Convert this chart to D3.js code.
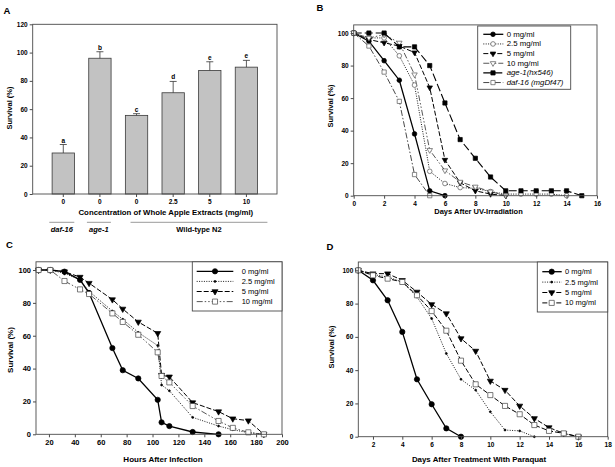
<!DOCTYPE html>
<html><head><meta charset="utf-8">
<script src="https://cdn.jsdelivr.net/npm/d3@7"></script>
<style>
body{margin:0;background:#fff}
svg{display:block}
text{font-family:"Liberation Sans",Arial,Helvetica,sans-serif}
</style>
</head><body>
<svg id="chart" width="615" height="467"></svg>
<script>
// ---------- Panel A data ----------
const barCategories = ["0", "0", "0", "2.5", "5", "10"];
const barValues = [29, 96, 55.6, 71.6, 87.4, 89.7];
const barErrors = [6, 4.6, 1.2, 8, 6.1, 4.8];
const barLetters = ["a", "b", "c", "d", "e", "e"];
const aYTicks = [0, 20, 40, 60, 80, 100, 120];
const strainGroups = ["daf-16", "age-1", "Wild-type N2"];
const strainFirst = [0, 1, 2];
const strainLast = [0, 1, 5];

// ---------- Panel B data ----------
const bLabels = ["0 mg/ml", "2.5 mg/ml", "5 mg/ml", "10 mg/ml", "age-1(hx546)", "daf-16 (mgDf47)"];
const b0 = [100, 95, 83, 71, 38, 3, 0];
const b25 = [100, 97, 97, 86, 68, 15, 7.5, 5, 4.5, 2.5, 1, 1, 1, 1, 0];
const b5 = [100, 96, 94, 92, 88, 66.5, 22, 8, 3, 1, 0];
const b10 = [100, 97, 99, 94, 74.5, 28, 15.5, 8.5, 5.5, 2.5, 0];
const bAge1 = [100, 100, 100, 91.5, 91.5, 80, 57, 34.5, 23, 11.5, 3, 3, 3, 3, 3, 0];
const bDaf16 = [100, 92, 76, 58, 13, 0];
const bXTicks = [0, 2, 4, 6, 8, 10, 12, 14, 16];

// ---------- Panel C data ----------
const cLabels = ["0 mg/ml", "2.5 mg/ml", "5 mg/ml", "10 mg/ml"];
const cHours = [12, 21, 32, 44, 51, 69, 77, 89, 104, 107, 113, 131, 151, 162, 174, 186];
const c0 = [100, 100, 99, 94, 86, 52.5, 39, 34, 21, 7.3, 5, 1.4, 0];
const c25 = [100, 100, 98, 94, 87, 75, 70, 62, 54, 30, 26.5, 10.3, 5, 2.8, 1, 0];
const c5 = [100, 100, 99, 95.7, 92, 82, 76.3, 68.4, 61.5, 36, 35, 19.3, 13.8, 9.5, 8.3, 0];
const c10 = [100, 100, 93.3, 88.2, 85.4, 73.6, 68.4, 60.6, 49.9, 35.5, 31.6, 17.2, 8.1, 3.9, 1.2, 0];
const cXTicks = [20, 40, 60, 80, 100, 120, 140, 160, 180, 200];

// ---------- Panel D data ----------
const dLabels = ["0 mg/ml", "2.5 mg/ml", "5 mg/ml", "10 mg/ml"];
const d0 = [100, 94, 82, 63, 34.5, 19.5, 5, 0];
const d25 = [100, 97.5, 96, 93, 84, 71, 50, 34.5, 28, 15, 4, 3.5, 0];
const d5 = [100, 98, 98, 94, 87, 79.5, 74, 59, 51.5, 33.5, 28, 18.5, 11, 5.5, 2, 0];
const d10 = [100, 97, 95, 93, 85, 75.5, 63.7, 45.7, 31.5, 25, 18.5, 13.5, 7, 3.5, 2, 0];
const dXTicks = [2, 4, 6, 8, 10, 12, 14, 16, 18];

const survTicks = [0, 20, 40, 60, 80, 100];

// ---------- styles ----------
const FONT = '"Liberation Sans",Arial,Helvetica,sans-serif';
const frameColor = "#4a4a4a";
const svg = d3.select("#chart");
svg.append("rect").attr("width", 615).attr("height", 467).attr("fill", "#fff");

const styles = {
  solid:   {dash: null, w: 1.3, color: "#000"},
  dotted:  {dash: "1,1.4", w: 0.9, color: "#000"},
  dashed:  {dash: "5,2", w: 1.0, color: "#000"},
  longdash:{dash: "8,3", w: 1.1, color: "#000"},
  dashdot: {dash: "6,2,1.5,2", w: 0.9, color: "#333"},
  dashdotdot: {dash: "6,2,1.5,2,1.5,2", w: 0.9, color: "#444"}
};
const markers = {
  fcircle: {type: d3.symbolCircle, size: 17, fill: "#000", stroke: "#000", rot: 0},
  ocircle: {type: d3.symbolCircle, size: 17, fill: "#fff", stroke: "#555", rot: 0},
  ftri:    {type: d3.symbolTriangle, size: 13, fill: "#000", stroke: "#000", rot: 180},
  otri:    {type: d3.symbolTriangle, size: 13, fill: "#fff", stroke: "#555", rot: 180},
  fsquare: {type: d3.symbolSquare, size: 18, fill: "#000", stroke: "#000", rot: 0},
  osquare: {type: d3.symbolSquare, size: 18, fill: "#fff", stroke: "#555", rot: 0},
  dot:     {type: d3.symbolCircle, size: 3, fill: "#000", stroke: "#000", rot: 0},
  ftriL:   {type: d3.symbolTriangle, size: 16, fill: "#000", stroke: "#000", rot: 180},
  osquareL:{type: d3.symbolSquare, size: 26, fill: "#fff", stroke: "#444", rot: 0},
  fcircleL:{type: d3.symbolCircle, size: 22, fill: "#000", stroke: "#000", rot: 0}
};

function styleAxis(ax, fs) {
  ax.select(".domain").remove();
  ax.selectAll(".tick line").attr("stroke", frameColor);
  ax.selectAll(".tick text").attr("fill", "#000").attr("font-family", FONT)
    .attr("font-size", fs).attr("font-weight", "bold");
}

function drawMarker(g, mk, cx, cy) {
  const m = markers[mk];
  g.append("path")
    .attr("d", d3.symbol().type(m.type).size(m.size)())
    .attr("transform", `translate(${cx},${cy}) rotate(${m.rot})`)
    .attr("fill", m.fill).attr("stroke", m.stroke).attr("stroke-width", 0.7);
}

function panelLetter(txt, x, y) {
  svg.append("text").attr("x", x).attr("y", y).text(txt)
    .attr("font-size", 9.5).attr("font-weight", "bold").attr("font-family", FONT);
}

function yTitle(txt, x, y, fs) {
  svg.append("text").attr("transform", `translate(${x},${y}) rotate(-90)`)
    .attr("text-anchor", "middle").attr("dominant-baseline", "central")
    .attr("font-size", fs).attr("font-weight", "bold").attr("font-family", FONT).text(txt);
}

// ---------- Panel A ----------
(function () {
  const L = 32.7, R = 277, T = 24.3, B = 194;
  const idx = barCategories.map((d, i) => i);
  const x = d3.scaleBand().domain(idx).range([L, R]).paddingInner(0.39).paddingOuter(0.53);
  const y = d3.scaleLinear().domain([0, 120]).range([B, T]);
  const g = svg.append("g");

  g.selectAll("rect.bar").data(idx).join("rect").attr("class", "bar")
    .attr("x", i => x(i)).attr("width", x.bandwidth())
    .attr("y", i => y(barValues[i])).attr("height", i => B - y(barValues[i]))
    .attr("fill", "#c2c2c2").attr("stroke", "#3a3a3a").attr("stroke-width", 0.8);

  idx.forEach(i => {
    const cx = x(i) + x.bandwidth() / 2;
    const top = y(barValues[i] + barErrors[i]);
    g.append("line").attr("x1", cx).attr("x2", cx).attr("y1", y(barValues[i])).attr("y2", top)
      .attr("stroke", "#333").attr("stroke-width", 0.8);
    g.append("line").attr("x1", cx - 3.5).attr("x2", cx + 3.5).attr("y1", top).attr("y2", top)
      .attr("stroke", "#333").attr("stroke-width", 0.8);
    g.append("text").attr("x", cx).attr("y", top - 2).attr("text-anchor", "middle")
      .attr("font-size", 6.5).attr("font-weight", "bold").attr("font-family", FONT).text(barLetters[i]);
  });

  g.append("rect").attr("x", L).attr("y", T).attr("width", R - L).attr("height", B - T)
    .attr("fill", "none").attr("stroke", frameColor).attr("stroke-width", 0.9);

  const ya = g.append("g").attr("transform", `translate(${L},0)`)
    .call(d3.axisLeft(y).tickValues(aYTicks).tickSize(3).tickPadding(2));
  styleAxis(ya, 6.5);
  const xa = g.append("g").attr("transform", `translate(0,${B})`)
    .call(d3.axisBottom(x).tickFormat(i => barCategories[i]).tickSize(3).tickPadding(2));
  styleAxis(xa, 6.5);

  g.append("text").attr("x", (L + R) / 2 + 11).attr("y", 215).attr("text-anchor", "middle")
    .attr("font-size", 7.8).attr("font-weight", "bold").attr("font-family", FONT)
    .text("Concentration of Whole Apple Extracts (mg/ml)");

  const padL = [14, 13, 6], padR = [11, 11, 21];
  strainGroups.forEach((name, k) => {
    const x1 = x(strainFirst[k]) + x.bandwidth() / 2 - padL[k];
    const x2 = x(strainLast[k]) + x.bandwidth() / 2 + padR[k];
    g.append("line").attr("x1", x1).attr("x2", x2).attr("y1", 222.3).attr("y2", 222.3)
      .attr("stroke", "#9a9a9a").attr("stroke-width", 1);
    g.append("text").attr("x", (x1 + x2) / 2).attr("y", 232).attr("text-anchor", "middle")
      .attr("font-size", 7.5).attr("font-weight", "bold").attr("font-family", FONT)
      .attr("font-style", k < 2 ? "italic" : "normal").text(name);
  });

  panelLetter("A", 3.5, 14);
  yTitle("Survival (%)", 9.5, 108, 7.5);
})();

// ---------- generic line panel ----------
function linePanel(cfg) {
  const g = svg.append("g");
  const x = d3.scaleLinear().domain(cfg.xDomain).range([cfg.L, cfg.R]);
  const y = d3.scaleLinear().domain([0, 105]).range([cfg.B, cfg.T]);

  cfg.series.forEach(s => {
    const pts = s.y.map((v, i) => [s.x[i], v]);
    const st = styles[s.line];
    g.append("path").datum(pts)
      .attr("d", d3.line().x(d => x(d[0])).y(d => y(d[1])))
      .attr("fill", "none").attr("stroke", st.color).attr("stroke-width", st.w)
      .attr("stroke-dasharray", st.dash);
  });
  cfg.series.forEach(s => {
    s.y.forEach((v, i) => drawMarker(g, s.marker, x(s.x[i]), y(v)));
  });

  g.append("rect").attr("x", cfg.L).attr("y", cfg.T).attr("width", cfg.R - cfg.L).attr("height", cfg.B - cfg.T)
    .attr("fill", "none").attr("stroke", frameColor).attr("stroke-width", 0.9);

  const ya = g.append("g").attr("transform", `translate(${cfg.L},0)`)
    .call(d3.axisLeft(y).tickValues(survTicks).tickSize(3).tickPadding(2));
  styleAxis(ya, cfg.tickFs);
  const xa = g.append("g").attr("transform", `translate(0,${cfg.B})`)
    .call(d3.axisBottom(x).tickValues(cfg.xTicks).tickSize(3).tickPadding(2.5));
  styleAxis(xa, cfg.tickFs);

  g.append("text").attr("x", cfg.xTitleX).attr("y", cfg.xTitleY).attr("text-anchor", "middle")
    .attr("font-size", cfg.titleFs).attr("font-weight", "bold").attr("font-family", FONT).text(cfg.xTitle);

  // legend
  const lg = cfg.legend;
  g.append("rect").attr("x", lg.x).attr("y", lg.y).attr("width", lg.w).attr("height", lg.h)
    .attr("fill", "#fff").attr("stroke", frameColor).attr("stroke-width", 0.9);
  cfg.series.forEach((s, i) => {
    const ry = lg.row0 + i * lg.dy;
    const st = styles[s.line];
    g.append("line").attr("x1", lg.sx1).attr("x2", lg.sx2).attr("y1", ry).attr("y2", ry)
      .attr("stroke", st.color).attr("stroke-width", st.w).attr("stroke-dasharray", st.dash);
    drawMarker(g, s.marker, lg.mx, ry);
    g.append("text").attr("x", lg.tx).attr("y", ry).attr("dominant-baseline", "central")
      .attr("font-size", lg.fs).attr("font-family", FONT)
      .attr("font-style", s.italic ? "italic" : "normal").text(s.label);
  });
}

const bDays = d3.range(0, 16);
linePanel({
  L: 353.7, R: 597, T: 24.9, B: 195.7, xDomain: [0, 16], xTicks: bXTicks,
  tickFs: 6.5, titleFs: 7.5, xTitle: "Days After UV-Irradiation", xTitleX: 478.5, xTitleY: 213.5,
  series: [
    {label: bLabels[0], x: bDays, y: b0, line: "solid", marker: "fcircle"},
    {label: bLabels[1], x: bDays, y: b25, line: "dotted", marker: "ocircle"},
    {label: bLabels[2], x: bDays, y: b5, line: "dashed", marker: "ftri"},
    {label: bLabels[3], x: bDays, y: b10, line: "dashdotdot", marker: "otri"},
    {label: bLabels[4], x: bDays, y: bAge1, line: "longdash", marker: "fsquare", italic: true},
    {label: bLabels[5], x: bDays, y: bDaf16, line: "dashdot", marker: "osquare", italic: true}
  ],
  legend: {x: 477.7, y: 26, w: 93, h: 63.3, row0: 34.3, dy: 9.65, sx1: 483.3, sx2: 503.3, mx: 493, tx: 506.7, fs: 7.8}
});

linePanel({
  L: 36, R: 282, T: 261.8, B: 434.3, xDomain: [10, 200], xTicks: cXTicks,
  tickFs: 7.5, titleFs: 8, xTitle: "Hours After Infection", xTitleX: 163, xTitleY: 461.5,
  series: [
    {label: cLabels[0], x: cHours, y: c0, line: "solid", marker: "fcircleL"},
    {label: cLabels[1], x: cHours, y: c25, line: "dotted", marker: "dot"},
    {label: cLabels[2], x: cHours, y: c5, line: "dashed", marker: "ftriL"},
    {label: cLabels[3], x: cHours, y: c10, line: "dashdotdot", marker: "osquareL"}
  ],
  legend: {x: 192.3, y: 261.8, w: 89.7, h: 49.2, row0: 271.3, dy: 10.1, sx1: 196.7, sx2: 233.3, mx: 215, tx: 241.7, fs: 7.5}
});

const dDays = d3.range(1, 17);
linePanel({
  L: 358.3, R: 607.7, T: 262, B: 436.7, xDomain: [1, 18], xTicks: dXTicks,
  tickFs: 6.5, titleFs: 7.9, xTitle: "Days After Treatment With Paraquat", xTitleX: 479, xTitleY: 461.5,
  series: [
    {label: dLabels[0], x: dDays, y: d0, line: "solid", marker: "fcircleL"},
    {label: dLabels[1], x: dDays, y: d25, line: "dotted", marker: "dot"},
    {label: dLabels[2], x: dDays, y: d5, line: "dashed", marker: "ftriL"},
    {label: dLabels[3], x: dDays, y: d10, line: "dashed", marker: "osquareL"}
  ],
  legend: {x: 537.3, y: 262, w: 70.4, h: 50, row0: 271.7, dy: 10.4, sx1: 542.3, sx2: 561.7, mx: 551.7, tx: 565, fs: 7.5}
});

panelLetter("B", 316.5, 11);
panelLetter("C", 6, 248);
panelLetter("D", 326.5, 249.5);
yTitle("Survival (%)", 330, 106, 7.5);
yTitle("Survival (%)", 10.3, 350, 8);
yTitle("Survival (%)", 331, 347, 7.5);
</script>
</body></html>
